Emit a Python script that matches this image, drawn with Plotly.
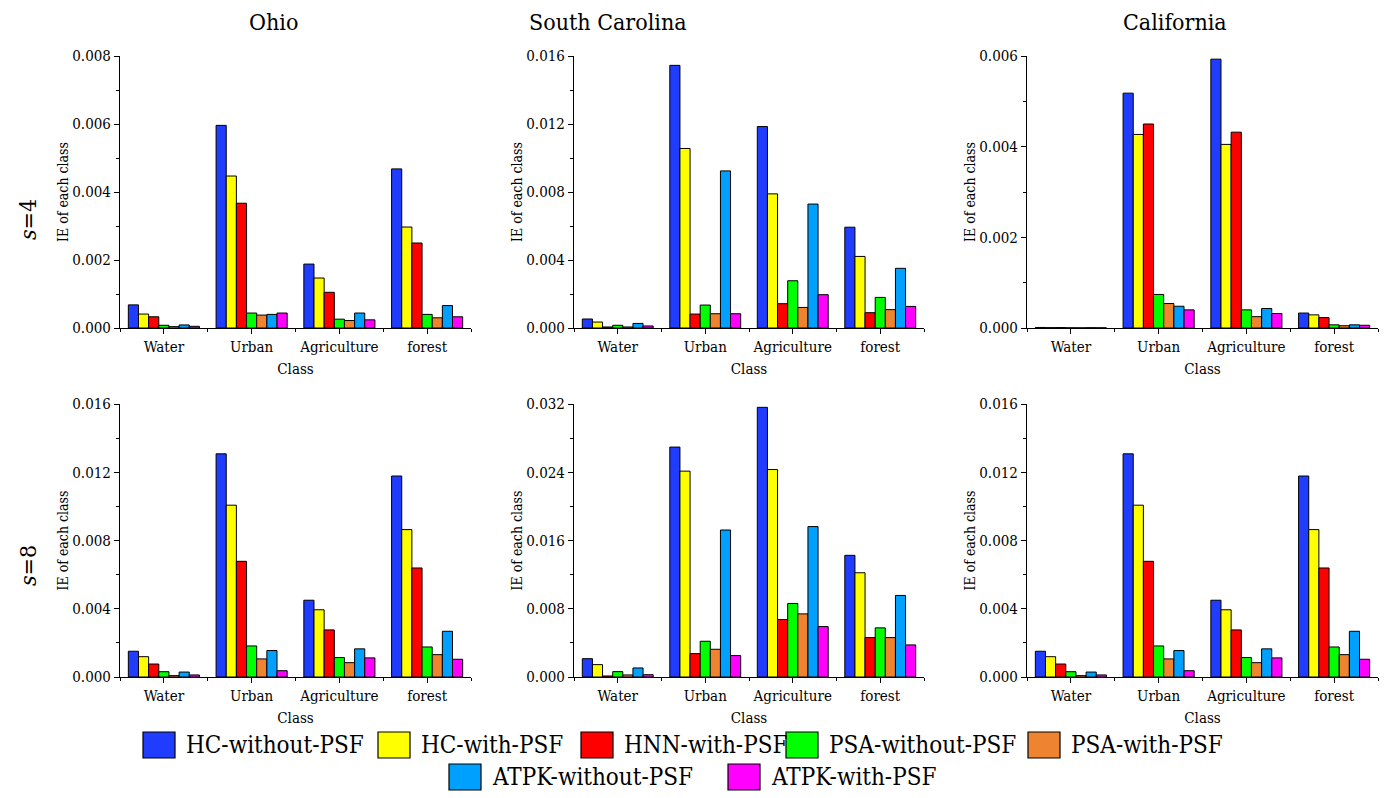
import plotly.graph_objects as go

# ---------------- data ----------------
classes = ["Water", "Urban", "Agriculture", "forest"]
methods = ["HC-without-PSF", "HC-with-PSF", "HNN-with-PSF", "PSA-without-PSF",
           "PSA-with-PSF", "ATPK-without-PSF", "ATPK-with-PSF"]
colors = ["#1F3CFF", "#FFFF00", "#FF0000", "#00FF00", "#EE8330", "#00A0FF", "#FF00FF"]

# IE per class, one row per method (order of `methods`), columns follow `classes`
ohio_s4 = [
    [0.00068, 0.00596, 0.00188, 0.00468],
    [0.00041, 0.00447, 0.00147, 0.00297],
    [0.00033, 0.00367, 0.00105, 0.00250],
    [0.00008, 0.00044, 0.00026, 0.00040],
    [0.00004, 0.00038, 0.00022, 0.00030],
    [0.00009, 0.00040, 0.00044, 0.00066],
    [0.00005, 0.00044, 0.00024, 0.00033],
]
sc_s4 = [
    [0.00053, 0.01545, 0.01185, 0.00593],
    [0.00035, 0.01056, 0.00789, 0.00421],
    [0.00006, 0.00082, 0.00143, 0.00090],
    [0.00016, 0.00135, 0.00278, 0.00180],
    [0.00006, 0.00084, 0.00121, 0.00108],
    [0.00027, 0.00924, 0.00729, 0.00351],
    [0.00012, 0.00084, 0.00196, 0.00127],
]
ca_s4 = [
    [0.000012, 0.00518, 0.00593, 0.00033],
    [0.000008, 0.00427, 0.00405, 0.00029],
    [0.000010, 0.00450, 0.00432, 0.00023],
    [0.000004, 0.00074, 0.00040, 0.00007],
    [0.000003, 0.00054, 0.00025, 0.00005],
    [0.000006, 0.00048, 0.00043, 0.00007],
    [0.000004, 0.00040, 0.00032, 0.00006],
]
ohio_s8 = [
    [0.00151, 0.01308, 0.00450, 0.01178],
    [0.00119, 0.01007, 0.00394, 0.00864],
    [0.00076, 0.00678, 0.00276, 0.00639],
    [0.00031, 0.00182, 0.00114, 0.00176],
    [0.00008, 0.00106, 0.00084, 0.00131],
    [0.00029, 0.00155, 0.00165, 0.00268],
    [0.00012, 0.00037, 0.00112, 0.00104],
]
sc_s8 = [
    [0.00215, 0.02695, 0.03161, 0.01426],
    [0.00145, 0.02413, 0.02432, 0.01222],
    [0.00012, 0.00274, 0.00674, 0.00462],
    [0.00063, 0.00419, 0.00862, 0.00576],
    [0.00024, 0.00325, 0.00740, 0.00462],
    [0.00106, 0.01723, 0.01763, 0.00956],
    [0.00027, 0.00251, 0.00591, 0.00376],
]
ca_s8 = [
    [0.00151, 0.01308, 0.00450, 0.01178],
    [0.00119, 0.01007, 0.00394, 0.00864],
    [0.00076, 0.00678, 0.00276, 0.00639],
    [0.00031, 0.00182, 0.00114, 0.00176],
    [0.00008, 0.00106, 0.00084, 0.00131],
    [0.00029, 0.00155, 0.00165, 0.00268],
    [0.00012, 0.00037, 0.00112, 0.00104],
]

regions = ["Ohio", "South Carolina", "California"]
scales = ["4", "8"]
y_max = [0.008, 0.016, 0.006, 0.016, 0.032, 0.016]
y_step = [0.002, 0.004, 0.002, 0.004, 0.008, 0.004]

# ---------------- layout geometry (pixels) ----------------
W, H = 1384, 798
FONT = "DejaVu Serif Condensed, DejaVu Serif"
col_px = [(120, 471), (574, 924), (1027, 1378)]
row_px = [(56, 328), (404, 677)]
title_cx = [273, 608, 1175]


def fx(p):
    return p / W


def fy(p):
    return 1 - p / H


fig = go.Figure()
panels = [ohio_s4, sc_s4, ca_s4, ohio_s8, sc_s8, ca_s8]
xpos = list(range(len(classes)))

for i, vals in enumerate(panels):
    n = i + 1
    r, c = divmod(i, 3)
    xref = "x" if n == 1 else f"x{n}"
    yref = "y" if n == 1 else f"y{n}"
    for m, name in enumerate(methods):
        fig.add_trace(go.Bar(
            x=xpos, y=vals[m], name=name, xaxis=xref, yaxis=yref,
            marker=dict(color=colors[m], line=dict(color="black", width=1)),
            showlegend=False,
        ))
    ymax, step = y_max[i], y_step[i]
    nmaj = int(round(ymax / step))
    yt = [step * k for k in range(nmaj + 1)]
    ym = [step * (k + 0.5) for k in range(nmaj)]
    xk = "xaxis" if n == 1 else f"xaxis{n}"
    yk = "yaxis" if n == 1 else f"yaxis{n}"
    fig.layout[xk] = dict(
        domain=[fx(col_px[c][0]), fx(col_px[c][1])], anchor=yref,
        range=[-0.5, len(classes) - 0.5], automargin=False,
        tickmode="array", tickvals=xpos, ticktext=classes,
        ticks="outside", ticklen=5, tickcolor="black",
        minor=dict(tickmode="array", tickvals=[k - 0.5 for k in range(len(classes) + 1)],
                   ticks="outside", ticklen=3, tickcolor="black"),
        showline=True, linecolor="black", linewidth=1.2,
        showgrid=False, zeroline=False, fixedrange=True,
        tickfont=dict(family=FONT, size=15, color="black"),
        title=dict(text="Class", font=dict(family=FONT, size=15, color="black"), standoff=8),
    )
    fig.layout[yk] = dict(
        domain=[fy(row_px[r][1]), fy(row_px[r][0])], anchor=xref,
        range=[0, ymax], automargin=False,
        tickmode="array", tickvals=yt, tickformat=".3f",
        ticks="outside", ticklen=5, tickcolor="black",
        minor=dict(tickmode="array", tickvals=ym, ticks="outside", ticklen=3, tickcolor="black"),
        showline=True, linecolor="black", linewidth=1.2,
        showgrid=False, zeroline=False, fixedrange=True,
        tickfont=dict(family=FONT, size=15, color="black"),
        title=dict(text="IE of each class", font=dict(family=FONT, size=14, color="black"), standoff=0),
    )

annotations = []
# column titles
for c, reg in enumerate(regions):
    annotations.append(dict(
        text=reg, x=fx(title_cx[c]), y=fy(22), xref="paper", yref="paper",
        xanchor="center", yanchor="middle", showarrow=False,
        font=dict(family=FONT, size=23, color="black"),
    ))
# row labels
for r, s in enumerate(scales):
    annotations.append(dict(
        text=f"<i>s</i>={s}", x=fx(28), y=fy([220, 566][r]), xref="paper", yref="paper",
        xanchor="center", yanchor="middle", showarrow=False, textangle=-90,
        font=dict(family=FONT, size=23, color="black"),
    ))

# legend: swatch + label for each method
shapes = []
sw_x = [143, 378, 581, 786, 1028, 449, 728]
sw_row = [0, 0, 0, 0, 0, 1, 1]
row_cy = [745, 777]
SW_W, SW_H = 32, 26
for m, name in enumerate(methods):
    x0 = sw_x[m]
    cy = row_cy[sw_row[m]]
    shapes.append(dict(
        type="rect", xref="paper", yref="paper",
        x0=fx(x0), x1=fx(x0 + SW_W), y0=fy(cy + SW_H / 2), y1=fy(cy - SW_H / 2),
        fillcolor=colors[m], line=dict(color="black", width=1.2),
    ))
    annotations.append(dict(
        text=name, x=fx(x0 + SW_W + 9), y=fy(cy), xref="paper", yref="paper",
        xanchor="left", yanchor="middle", showarrow=False,
        font=dict(family=FONT, size=24, color="black"),
    ))

fig.update_layout(
    width=W, height=H,
    margin=dict(l=0, r=0, t=0, b=0, autoexpand=False),
    paper_bgcolor="white", plot_bgcolor="white",
    barmode="group", bargap=0.19, bargroupgap=0,
    font=dict(family=FONT, color="black"),
    annotations=annotations, shapes=shapes,
    showlegend=False,
)

fig.write_html("out.html")
